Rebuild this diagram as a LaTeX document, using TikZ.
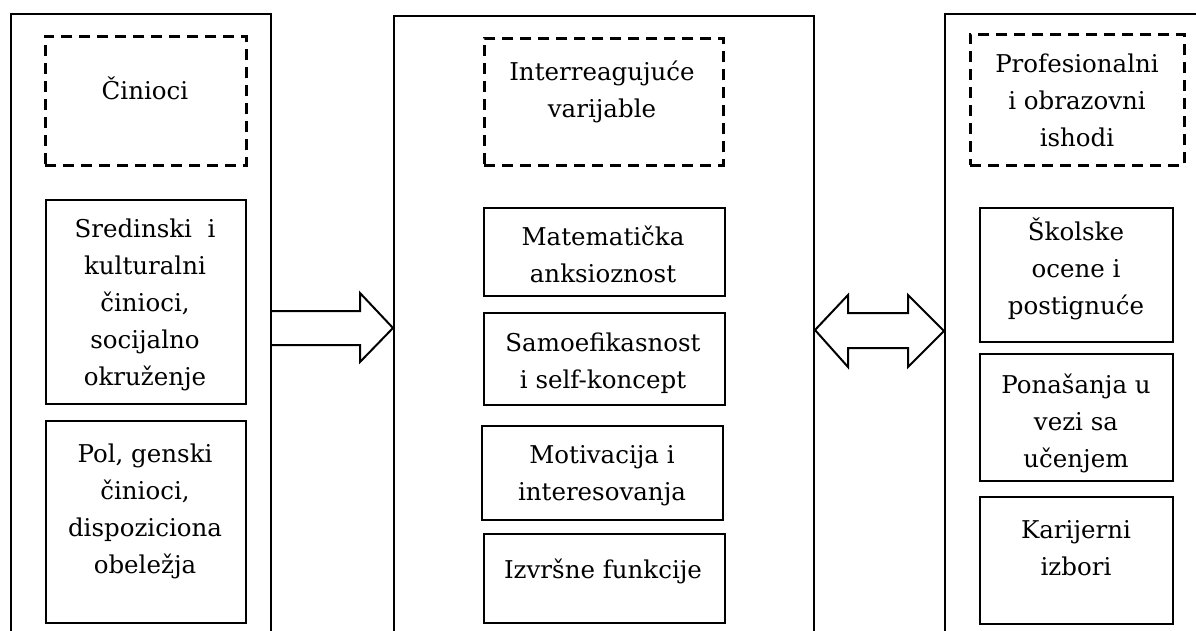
\documentclass[tikz,border=0pt]{standalone}
\usepackage{fontspec}
\setmainfont{DejaVu Serif}
\begin{document}
\begin{tikzpicture}[x=1pt,y=-1pt,
  column/.style={draw, line width=2pt, anchor=north west, inner sep=0pt},
  itembox/.style={draw, line width=2pt, anchor=north west, inner sep=0pt},
  headbox/.style={draw, line width=2.6pt, dash pattern=on 11pt off 7pt, anchor=north west, inner sep=0pt},
  % multi-line labels sit on the baseline of their last line
  lbl/.style={font=\fontsize{24.5}{37}\selectfont, align=center, anchor=base, inner sep=0pt},
  blockarrow/.style={draw, line width=2pt, fill=white, line join=miter}]
\useasboundingbox (0,0) rectangle (1196,631);
\clip (0,0) rectangle (1196,631);

% three columns, open towards the bottom
\node[column, minimum width=260pt, minimum height=660pt] (L) at (10,13) {};
\node[column, minimum width=420pt, minimum height=660pt] (M) at (393,15) {};
\node[column, minimum width=300pt, minimum height=660pt] (R) at (944,13) {};

% left column
\node[headbox, minimum width=201pt, minimum height=129pt] (D1) at (44,35) {};
\node[lbl] (t1) at (145,100) {Činioci};
\node[itembox, minimum width=200pt, minimum height=204pt] (B1) at (45,199) {};
\node[lbl] (t2) at (145,385) {Sredinski\ \ i\\kulturalni\\činioci,\\socijalno\\okruženje};
\node[itembox, minimum width=200pt, minimum height=202pt] (B2) at (45,420) {};
\node[lbl] (t3) at (145,573) {Pol, genski\\činioci,\\dispoziciona\\obeležja};

% middle column
\node[headbox, minimum width=239pt, minimum height=127pt] (D2) at (483,37) {};
\node[lbl] (t4) at (602,118) {Interreagujuće\\varijable};
\node[itembox, minimum width=241pt, minimum height=88pt] (B3) at (483,207) {};
\node[lbl] (t5) at (603,282) {Matematička\\anksioznost};
\node[itembox, minimum width=241pt, minimum height=92pt] (B4) at (483,312) {};
\node[lbl] (t6) at (603,388) {Samoefikasnost\\i self-koncept};
\node[itembox, minimum width=241pt, minimum height=94pt] (B5) at (481,425) {};
\node[lbl] (t7) at (602,500) {Motivacija i\\interesovanja};
\node[itembox, minimum width=241pt, minimum height=89pt] (B6) at (483,533) {};
\node[lbl] (t8) at (603,578) {Izvršne funkcije};

% right column
\node[headbox, minimum width=214pt, minimum height=131pt] (D3) at (969,33) {};
\node[lbl] (t9) at (1077,147) {Profesionalni\\i obrazovni\\ishodi};
\node[itembox, minimum width=193pt, minimum height=134pt] (B7) at (979,207) {};
\node[lbl] (t10) at (1076,314) {Školske\\ocene i\\postignuće};
\node[itembox, minimum width=193pt, minimum height=127pt] (B8) at (979,353) {};
\node[lbl] (t11) at (1076,467) {Ponašanja u\\vezi sa\\učenjem};
\node[itembox, minimum width=193pt, minimum height=127pt] (B9) at (979,496) {};
\node[lbl] (t12) at (1076,575) {Karijerni\\izbori};

% block arrow from the left column into the middle column
\draw[blockarrow] (L.east |- 0,311) -- (360,311) -- (360,293) -- (M.west |- 0,328)
  -- (360,362) -- (360,345) -- (L.east |- 0,345);

% two-headed block arrow between the middle and right columns
\draw[blockarrow] (M.east |- 0,330) -- (848,295) -- (848,313) -- (908,313) -- (908,295)
  -- (R.west |- 0,331) -- (908,367) -- (908,348) -- (848,348) -- (848,367) -- cycle;
\end{tikzpicture}
\end{document}
